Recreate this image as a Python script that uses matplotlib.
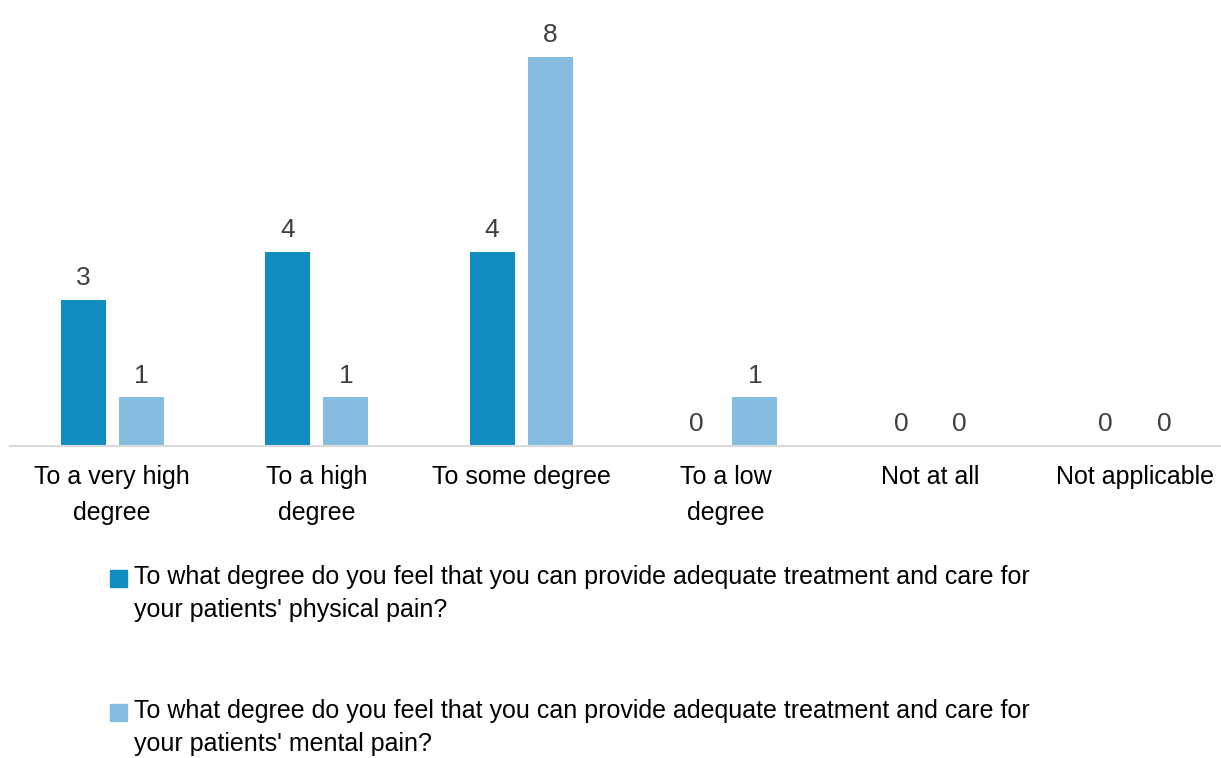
import numpy as np
import matplotlib.pyplot as plt
from matplotlib.patches import Rectangle

plt.rcParams["font.family"] = ["Liberation Sans", "DejaVu Sans"]

categories = ["To a very high\ndegree", "To a high\ndegree", "To some degree",
              "To a low\ndegree", "Not at all", "Not applicable"]
physical = [3, 4, 4, 0, 0, 0]
mental = [1, 1, 8, 1, 0, 0]
legend_labels = [
    "To what degree do you feel that you can provide adequate treatment and care for\nyour patients' physical pain?",
    "To what degree do you feel that you can provide adequate treatment and care for\nyour patients' mental pain?",
]

dark = "#118DC0"
light = "#86BBE0"

fig = plt.figure(figsize=(12.21, 7.58), dpi=100)
ax = fig.add_axes([10 / 1221, 312 / 758, 1227 / 1221, 8.8 * 48.6 / 758])

x = np.arange(len(categories))
w = 0.22
off = 0.143
b1 = ax.bar(x - off, physical, w, color=dark)
b2 = ax.bar(x + off, mental, w, color=light)

for bars in (b1, b2):
    for r in bars:
        ax.annotate(str(int(r.get_height())), (r.get_x() + r.get_width() / 2, r.get_height()),
                    xytext=(0, 7), textcoords="offset points", ha="center", va="bottom",
                    fontsize=19, color="#404040")

ax.set_xlim(-0.5, 5.5)
ax.set_ylim(0, 8.8)
ax.set_yticks([])
ax.set_xticks(x)
ax.set_xticklabels(categories, fontsize=18, linespacing=1.6, color="black")
ax.tick_params(axis="x", length=0, pad=14)
for s in ["top", "right", "left"]:
    ax.spines[s].set_visible(False)
ax.spines["bottom"].set_color("#D9D9D9")
ax.spines["bottom"].set_linewidth(1.5)

# legend drawn by hand so the square sits by the first line
legend_y = [578, 712]
for lab, col, yy in zip(legend_labels, [dark, light], legend_y):
    fig.patches.append(Rectangle((110 / 1221, 1 - (yy + 9) / 758), 17 / 1221, 17 / 758,
                                 transform=fig.transFigure, color=col))
    fig.text(134 / 1221, 1 - (yy - 13) / 758, lab, fontsize=18, va="top", ha="left",
             linespacing=1.48)

fig.savefig("out.png", dpi=100)
